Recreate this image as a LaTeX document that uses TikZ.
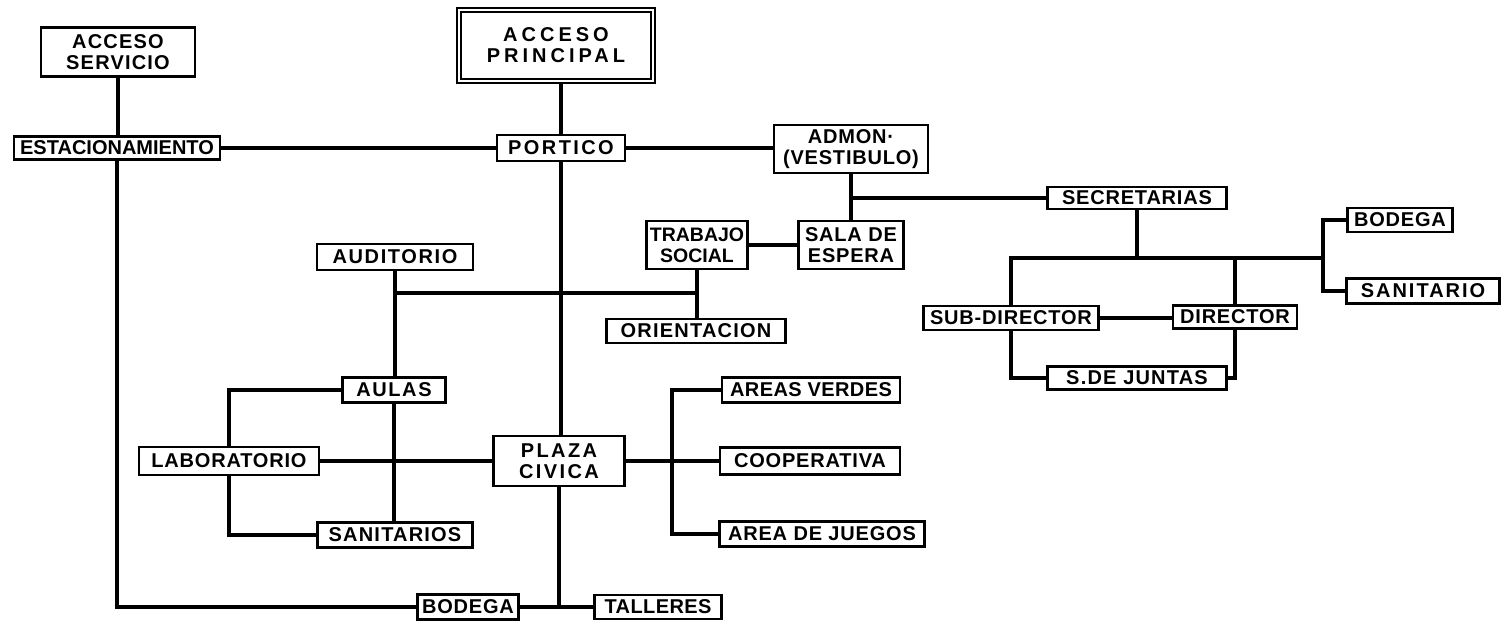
\documentclass[tikz,border=0pt]{standalone}
\usepackage{fontspec}
\newfontfamily\boxfont{Liberation Sans}[LetterSpace=4]
\newcommand{\lsp}[1]{\addfontfeature{LetterSpace=#1}}
\tikzset{
  box/.style={draw, line width=2.2pt, inner sep=0pt, align=center,
    font=\boxfont\bfseries\fontsize{20}{21}\selectfont},
  dbox/.style={box, double, line width=1.6pt, double distance=2.5pt},
  link/.style={line width=3.2pt}
}
\begin{document}
\begin{tikzpicture}[x=1pt,y=-1pt]
\useasboundingbox (0,0) rectangle (1510,622);
% nodes
\node[box, minimum width=154, minimum height=49] (asv) at (118,52) {\lsp{6}ACCESO\\\lsp{6}SERVICIO};
\node[dbox, minimum width=194, minimum height=71] (apr) at (556,45.5) {\lsp{20}ACCESO\\\lsp{20}PRINCIPAL};
\node[box, minimum width=206, minimum height=23] (est) at (117,148) {\lsp{0}ESTACIONAMIENTO};
\node[box, minimum width=128, minimum height=26] (por) at (561,148) {\lsp{12}PORTICO};
\node[box, minimum width=154, minimum height=48] (adm) at (851,149) {ADMON·\\(VESTIBULO)};
\node[box, minimum width=179, minimum height=22] (sec) at (1137,198) {SECRETARIAS};
\node[box, minimum width=105, minimum height=48] (sde) at (851,245) {SALA DE\\ESPERA};
\node[box, minimum width=101, minimum height=48] (tra) at (697,245) {\lsp{0}\fontsize{19.5}{21}\selectfont TRABAJO\\\lsp{0}\fontsize{19.5}{21}\selectfont SOCIAL};
\node[box, minimum width=156, minimum height=26] (aud) at (395,257) {\lsp{8}AUDITORIO};
\node[box, minimum width=179, minimum height=24] (ori) at (696,331) {\lsp{6}ORIENTACION};
\node[box, minimum width=175, minimum height=24] (sub) at (1011,318) {SUB-DIRECTOR};
\node[box, minimum width=124, minimum height=23] (dir) at (1235,317) {DIRECTOR};
\node[box, minimum width=179, minimum height=23] (sdj) at (1137,378) {\lsp{6}S.DE JUNTAS};
\node[box, minimum width=105, minimum height=24] (bodr) at (1400,220) {BODEGA};
\node[box, minimum width=153, minimum height=25] (sanr) at (1423,291) {\lsp{10}SANITARIO};
\node[box, minimum width=103, minimum height=25] (aul) at (394,390) {\lsp{8}AULAS};
\node[box, minimum width=180, minimum height=28] (lab) at (229,461) {LABORATORIO};
\node[box, minimum width=155, minimum height=25] (san) at (395,535) {\lsp{6}SANITARIOS};
\node[box, minimum width=131, minimum height=50] (pla) at (559,461) {\lsp{12}PLAZA\\\lsp{12}CIVICA};
\node[box, minimum width=178, minimum height=25] (av) at (811,390) {\lsp{2}AREAS VERDES};
\node[box, minimum width=180, minimum height=27] (coo) at (810,461) {COOPERATIVA};
\node[box, minimum width=205, minimum height=25] (aj) at (822,534) {AREA DE JUEGOS};
\node[box, minimum width=101, minimum height=25] (bod) at (468,607) {BODEGA};
\node[box, minimum width=127, minimum height=24] (tal) at (658,607) {\lsp{2}TALLERES};
% junction coordinates
\coordinate (ja) at (697,293);
\coordinate (jp) at (672,461);
\coordinate (jd) at (1323,258);
% connectors
\draw[link] (asv.south) -- (asv.south |- est.north);
\draw[link] (est.east) -- (por.west);
\draw[link] (por.north) -- (por.north |- apr.south);
\draw[link] (por.east) -- (por.east -| adm.west);
\draw[link] (adm.south) -- (sde.north);
\draw[link] (adm.south |- sec.west) -- (sec.west);
\draw[link] (tra.east |- sde.west) -- (sde.west);
\draw[link] (tra.south) -- (tra.south |- ori.north);
\draw[link] (ja) -- (aud.south |- ja);
\draw[link] (aud.south) -- (aud.south |- aul.north);
\draw[link] (aul.west) -| (lab.north);
\draw[link] (aul.south) -- (aul.south |- san.north);
\draw[link] (lab.east) -- (pla.west);
\draw[link] (lab.south) |- (san.west);
\draw[link] (por.south) -- (por.south |- pla.north);
\draw[link] (pla.south) -- (pla.south |- bod.east);
\draw[link] (bod.east) -- (tal.west);
\draw[link] (est.south) |- (bod.west);
\draw[link] (pla.east) -- (coo.west);
\draw[link] (av.west) -| (jp) |- (aj.west);
\draw[link] (sec.south) -- (sec.south |- jd);
\draw[link] (sub.north) |- (jd);
\draw[link] (dir.north) -- (dir.north |- jd);
\draw[link] (bodr.west) -| (jd) |- (sanr.west);
\draw[link] (sub.east) -- (sub.east -| dir.west);
\draw[link] (sub.south) |- (sdj.west);
\draw[link] (dir.south) |- (sdj.east);
\end{tikzpicture}
\end{document}
